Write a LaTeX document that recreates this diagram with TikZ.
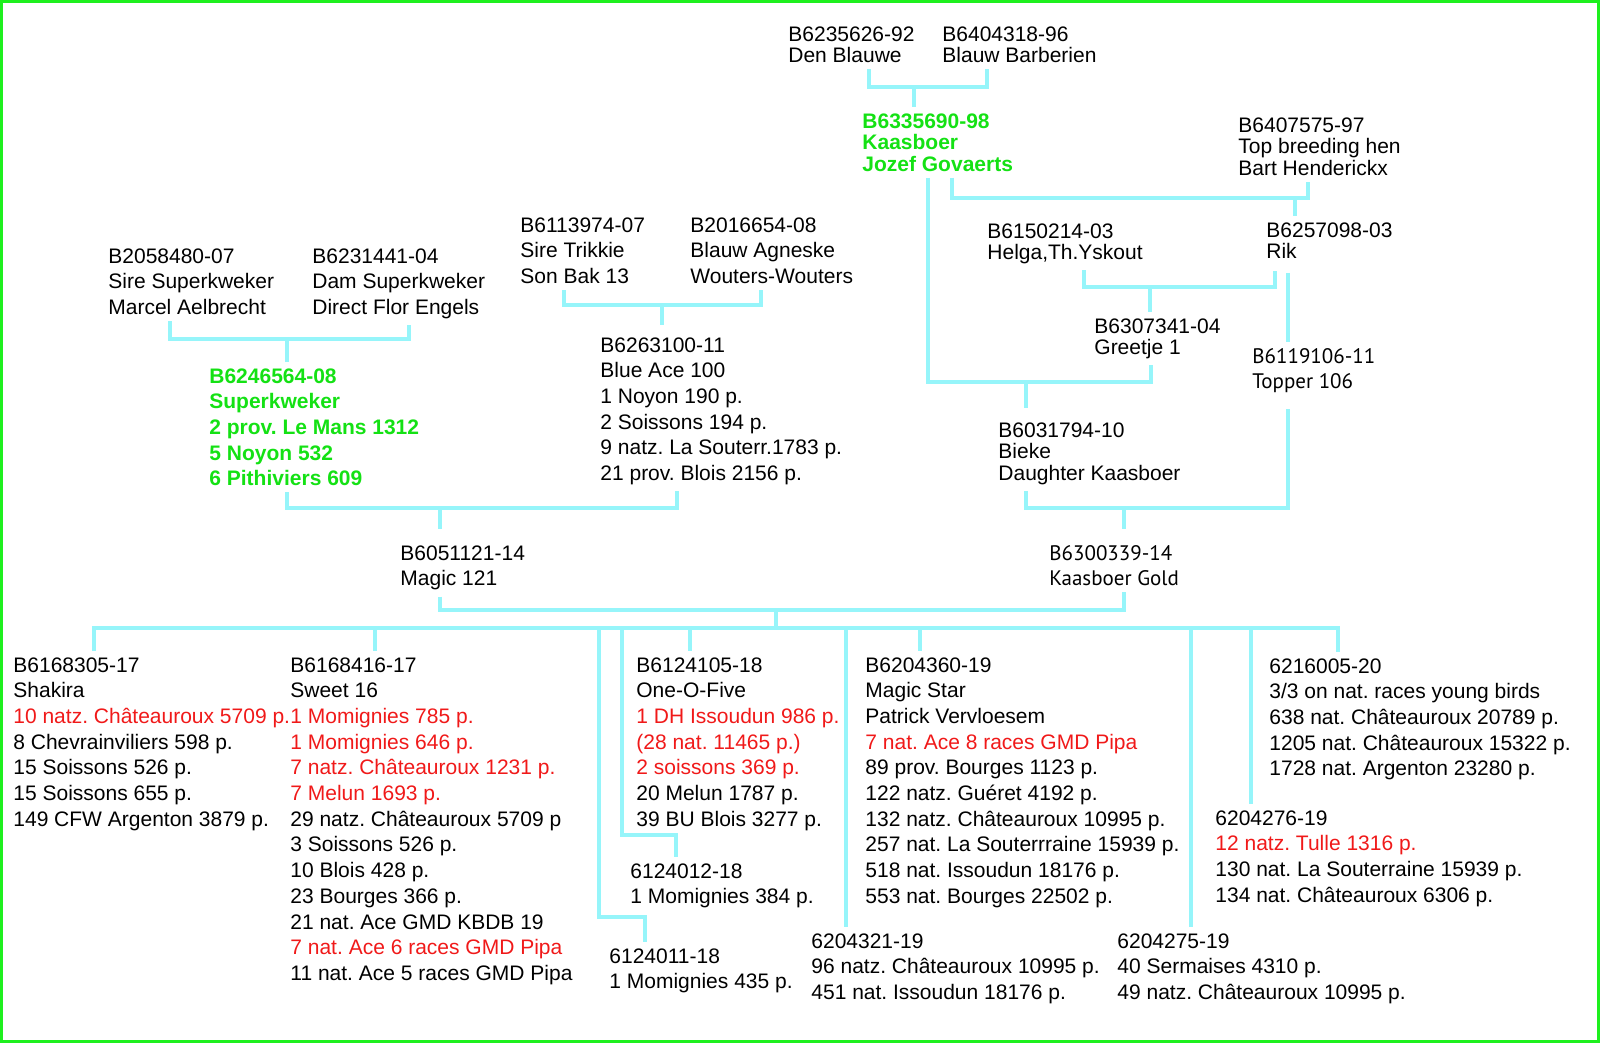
\documentclass[tikz,border=0pt]{standalone}
\usepackage{fontspec}
\setmainfont{Liberation Sans}
\newfontfamily\myriadlike{PT Sans}
\definecolor{linecyan}{RGB}{150,245,250}
\definecolor{winnergreen}{RGB}{20,225,20}
\definecolor{framegreen}{RGB}{30,240,30}
\definecolor{resultred}{RGB}{240,25,25}
\newcommand{\res}[1]{\textcolor{resultred}{#1}}
\frenchspacing

\begin{document}
\begin{tikzpicture}[
        x=0.5pt, y=-0.5pt,
        bird/.style={anchor=north west, inner xsep=0pt, inner ysep=3pt, align=left, font=\fontsize{10.5}{12.85}\selectfont},
        tight/.style={bird, font=\fontsize{10.5}{10.75}\selectfont},
        champ/.style={bird, text=winnergreen, font=\bfseries\fontsize{10.5}{12.85}\selectfont},
        champtight/.style={bird, text=winnergreen, font=\bfseries\fontsize{10.5}{10.75}\selectfont},
        alt/.style={bird, font=\myriadlike\fontsize{10.5}{12.5}\selectfont},
        link/.style={draw=linecyan, line width=2pt},
        frame/.style={draw=framegreen, line width=1.5pt}
    ]
        \useasboundingbox (0,0) rectangle (1600,1043);
        \draw[frame] (1.5,1.5) rectangle (1598.5,1041.5);

        % ancestors
        \node[tight] (denblauwe) at (788,20) {B6235626-92\\Den Blauwe};
        \node[tight] (blauwbarb) at (942,20) {B6404318-96\\Blauw Barberien};
        \node[champtight] (kaasboer) at (862,107) {B6335690-98\\Kaasboer\\Jozef Govaerts};
        \node[tight] (topbreed) at (1238,111) {B6407575-97\\Top breeding hen\\Bart Henderickx};
        \node[tight] (helga) at (987,217) {B6150214-03\\Helga,Th.Yskout};
        \node[tight] (rik) at (1266,216) {B6257098-03\\Rik};
        \node[tight] (greetje) at (1094,312) {B6307341-04\\Greetje 1};
        \node[alt] (topper) at (1252,342) {B6119106-11\\Topper 106};
        \node[tight] (bieke) at (998,416) {B6031794-10\\Bieke\\Daughter Kaasboer};
        \node[bird] (siresk) at (108,242) {B2058480-07\\Sire Superkweker\\Marcel Aelbrecht};
        \node[bird] (damsk) at (312,242) {B6231441-04\\Dam Superkweker\\Direct Flor Engels};
        \node[bird] (trikkie) at (520,211) {B6113974-07\\Sire Trikkie\\Son Bak 13};
        \node[bird] (agneske) at (690,211) {B2016654-08\\Blauw Agneske\\Wouters-Wouters};
        \node[champ] (superkweker) at (209,362) {B6246564-08\\Superkweker\\2 prov. Le Mans 1312\\5 Noyon 532\\6 Pithiviers 609};
        \node[bird] (blueace) at (600,331) {B6263100-11\\Blue Ace 100\\1 Noyon 190 p.\\2 Soissons 194 p.\\9 natz. La Souterr.1783 p.\\21 prov. Blois 2156 p.};

        % parents
        \node[bird] (magic) at (400,539) {B6051121-14\\Magic 121};
        \node[alt] (kgold) at (1049,539) {B6300339-14\\Kaasboer Gold};

        % youngsters
        \node[bird] (shakira) at (13,651) {B6168305-17\\Shakira\\\res{10 natz. Châteauroux 5709 p.}\\8 Chevrainviliers 598 p.\\15 Soissons 526 p.\\15 Soissons 655 p.\\149 CFW Argenton 3879 p.};
        \node[bird] (sweet) at (290,651) {B6168416-17\\Sweet 16\\\res{1 Momignies 785 p.}\\\res{1 Momignies 646 p.}\\\res{7 natz. Châteauroux 1231 p.}\\\res{7 Melun 1693 p.}\\29 natz. Châteauroux 5709 p\\3 Soissons 526 p.\\10 Blois 428 p.\\23 Bourges 366 p.\\21 nat. Ace GMD KBDB 19\\\res{7 nat. Ace 6 races GMD Pipa}\\11 nat. Ace 5 races GMD Pipa};
        \node[bird] (onefive) at (636,651) {B6124105-18\\One-O-Five\\\res{1 DH Issoudun 986 p.}\\\res{(28 nat. 11465 p.)}\\\res{2 soissons 369 p.}\\20 Melun 1787 p.\\39 BU Blois 3277 p.};
        \node[bird] (magicstar) at (865,651) {B6204360-19\\Magic Star\\Patrick Vervloesem\\\res{7 nat. Ace 8 races GMD Pipa}\\89 prov. Bourges 1123 p.\\122 natz. Guéret 4192 p.\\132 natz. Châteauroux 10995 p.\\257 nat. La Souterrraine 15939 p.\\518 nat. Issoudun 18176 p.\\553 nat. Bourges 22502 p.};
        \node[bird] (c6216005) at (1269,652) {6216005-20\\3/3 on nat. races young birds\\638 nat. Châteauroux 20789 p.\\1205 nat. Châteauroux 15322 p.\\1728 nat. Argenton 23280 p.};
        \node[bird] (c6124012) at (630,857) {6124012-18\\1 Momignies 384 p.};
        \node[bird] (c6124011) at (609,942) {6124011-18\\1 Momignies 435 p.};
        \node[bird] (c6204321) at (811,927) {6204321-19\\96 natz. Châteauroux 10995 p.\\451 nat. Issoudun 18176 p.};
        \node[bird] (c6204276) at (1215,804) {6204276-19\\\res{12 natz. Tulle 1316 p.}\\130 nat. La Souterraine 15939 p.\\134 nat. Châteauroux 6306 p.};
        \node[bird] (c6204275) at (1117,927) {6204275-19\\40 Sermaises 4310 p.\\49 natz. Châteauroux 10995 p.};

        % pairings
        \coordinate (jA) at (914,87);
        \coordinate (jB) at (1026,382);
        \coordinate (jC) at (1295,198);
        \coordinate (jD) at (1150,287);
        \coordinate (jE) at (1124,508);
        \coordinate (jF) at (287,339);
        \coordinate (jG) at (662,305);
        \coordinate (jH) at (440,508);
        \coordinate (jI) at (776,610);
        \coordinate (busL) at (94,628);
        \coordinate (busR) at (1338,628);

        \draw[link] (denblauwe.south -| 869,0) |- (jA) -| (blauwbarb.south -| 987,0);
        \draw[link] (jA) -- (kaasboer.north -| jA);
        \draw[link] (kaasboer.south -| 928,0) |- (jB) -| (greetje.south -| 1151,0);
        \draw[link, shorten >=4pt] (jB) -- (bieke.north -| jB);
        \draw[link] (kaasboer.south -| 952,0) |- (jC) -| (topbreed.south -| 1308,0);
        \draw[link] (jC) -- (rik.north -| jC);
        \draw[link, shorten >=3pt] (helga.south -| 1084,0) |- (jD) -| (rik.south -| 1275,0);
        \draw[link] (jD) -- (greetje.north -| jD);
        \draw[link, shorten <=4pt] (rik.south -| 1288,0) -- (topper.north -| 1288,0);
        \draw[link, shorten >=5pt] (bieke.south -| 1026,0) |- (jE) -| (topper.south -| 1288,0);
        \draw[link, shorten >=5pt] (jE) -- (kgold.north -| jE);
        \draw[link] (siresk.south -| 170,0) |- (jF) -| (damsk.south -| 409,0);
        \draw[link] (jF) -- (superkweker.north -| jF);
        \draw[link] (trikkie.south -| 564,0) |- (jG) -| (agneske.south -| 761,0);
        \draw[link, shorten >=3pt] (jG) -- (blueace.north -| jG);
        \draw[link] (superkweker.south -| 287,0) |- (jH) -| (blueace.south -| 677,0);
        \draw[link, shorten >=5pt] (jH) -- (magic.north -| jH);
        \draw[link] (magic.south -| 440,0) |- (jI) -| (kgold.south -| 1124,0);

        % offspring
        \draw[link] (jI) -- (jI |- busL);
        \draw[link] (shakira.north -| busL) -- (busL) -- (busR) -- (c6216005.north -| busR);
        \foreach \c/\x in {sweet/375, onefive/690, magicstar/920, c6204321/846, c6204275/1191, c6204276/1251}
            \draw[link] (busL -| \x,0) -- (\c.north -| \x,0);
        \draw[link] (busL -| 599,0) -- ++(0,289) -| (c6124011.north -| 645,0);
        \draw[link] (busL -| 622,0) -- ++(0,207) -| (c6124012.north -| 676,0);
    \end{tikzpicture}
\end{document}
